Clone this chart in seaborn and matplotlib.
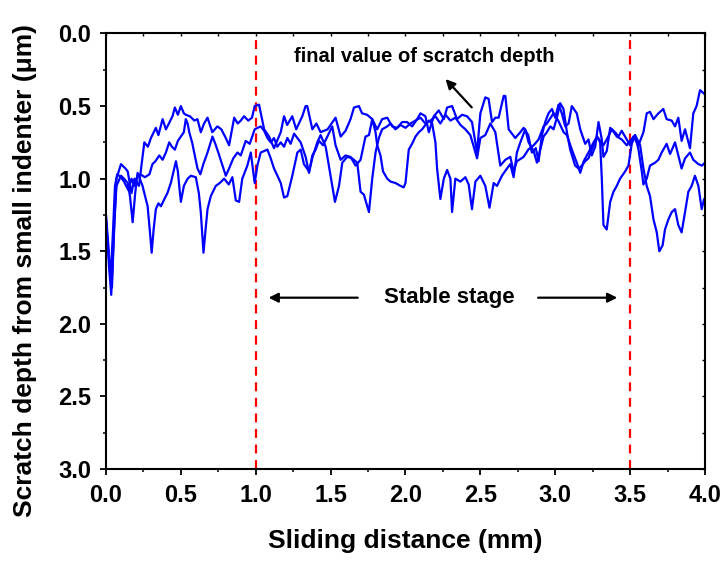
import numpy as np
import pandas as pd
import matplotlib
matplotlib.use("Agg")
import matplotlib.pyplot as plt
from matplotlib.ticker import MultipleLocator
import seaborn as sns

# three scratch-depth traces (x in mm, depth in um)
x_run1 = [0.0, 0.02, 0.035, 0.05, 0.07, 0.1, 0.13, 0.145, 0.17, 0.19, 0.22, 0.256, 0.28, 0.3, 0.333,
          0.35, 0.378, 0.4, 0.42, 0.444, 0.46, 0.48, 0.5, 0.52, 0.533, 0.56, 0.59, 0.611, 0.633, 0.655,
          0.678, 0.71, 0.744, 0.77, 0.8, 0.822, 0.856, 0.88, 0.9, 0.922, 0.95, 0.975, 0.993, 1.022, 1.04,
          1.056, 1.089, 1.122, 1.167, 1.189, 1.21, 1.244, 1.27, 1.311, 1.333, 1.344, 1.378, 1.405, 1.433,
          1.48, 1.533, 1.567, 1.6, 1.633, 1.656, 1.689, 1.71, 1.744, 1.778, 1.811, 1.844, 1.878, 1.911,
          1.944, 1.978, 2.01, 2.044, 2.078, 2.1, 2.133, 2.156, 2.189, 2.222, 2.256, 2.278, 2.311, 2.344,
          2.378, 2.411, 2.444, 2.478, 2.5, 2.533, 2.555, 2.578, 2.6, 2.622, 2.656, 2.667, 2.689, 2.733,
          2.767, 2.789, 2.82, 2.844, 2.87, 2.889, 2.911, 2.933, 2.955, 2.978, 3.0, 3.022, 3.044, 3.067,
          3.089, 3.111, 3.144, 3.167, 3.2, 3.222, 3.244, 3.267, 3.289, 3.311, 3.322, 3.344, 3.367, 3.4,
          3.422, 3.444, 3.478, 3.5, 3.522, 3.556, 3.589, 3.611, 3.633, 3.656, 3.689, 3.722, 3.744, 3.778,
          3.8, 3.822, 3.844, 3.867, 3.9, 3.922, 3.944, 3.967, 3.989, 4.0]
y_run1 = [1.27, 1.6, 1.8, 1.45, 1.0, 0.9, 0.93, 0.95, 1.1, 1.0, 1.05, 0.75, 0.78, 0.72, 0.65,
          0.7, 0.59, 0.66, 0.62, 0.57, 0.51, 0.56, 0.5, 0.55, 0.56, 0.57, 0.6, 0.59, 0.68, 0.62,
          0.58, 0.68, 0.64, 0.66, 0.72, 0.77, 0.58, 0.62, 0.6, 0.57, 0.6, 0.58, 0.5, 0.49, 0.58,
          0.66, 0.71, 0.79, 0.68, 0.57, 0.63, 0.57, 0.66, 0.57, 0.5, 0.5, 0.66, 0.62, 0.68,
          0.66, 0.58, 0.71, 0.67, 0.59, 0.51, 0.5, 0.55, 0.56, 0.59, 0.66, 0.59, 0.58, 0.64,
          0.65, 0.61, 0.61, 0.64, 0.59, 0.55, 0.57, 0.68, 0.57, 0.53, 0.59, 0.51, 0.5, 0.59,
          0.56, 0.57, 0.61, 0.82, 0.55, 0.44, 0.45, 0.61, 0.58, 0.58, 0.43, 0.43, 0.66, 0.72,
          0.68, 0.65, 0.7, 0.82, 0.79, 0.88, 0.7, 0.61, 0.55, 0.52, 0.58, 0.49, 0.55, 0.64,
          0.62, 0.5, 0.55, 0.66, 0.76, 0.73, 0.84, 0.78, 0.61, 0.73, 0.85, 0.81, 0.65, 0.68,
          0.71, 0.67, 0.73, 0.77, 0.71, 0.77, 0.68, 0.55, 0.54, 0.59, 0.55, 0.52, 0.59, 0.6,
          0.64, 0.58, 0.74, 0.66, 0.79, 0.55, 0.5, 0.39, 0.41, 0.42]

x_run2 = [0.0, 0.015, 0.03, 0.045, 0.06, 0.075, 0.1, 0.12, 0.15, 0.17, 0.19, 0.21, 0.23, 0.26, 0.29,
          0.31, 0.33, 0.356, 0.378, 0.4, 0.422, 0.44, 0.46, 0.48, 0.5, 0.52, 0.533, 0.545, 0.556, 0.575,
          0.589, 0.611, 0.63, 0.65, 0.678, 0.711, 0.73, 0.75, 0.778, 0.8, 0.822, 0.85, 0.878, 0.9, 0.933,
          0.96, 0.993, 1.033, 1.056, 1.078, 1.1, 1.122, 1.144, 1.167, 1.189, 1.211, 1.233, 1.256, 1.278,
          1.3, 1.333, 1.356, 1.378, 1.4, 1.422, 1.45, 1.478, 1.511, 1.533, 1.567, 1.6, 1.633, 1.667,
          1.7, 1.733, 1.756, 1.778, 1.8, 1.811, 1.833, 1.85, 1.878, 1.9, 1.933, 1.967, 1.988, 2.0, 2.022,
          2.044, 2.067, 2.089, 2.111, 2.133, 2.156, 2.178, 2.2, 2.211, 2.233, 2.256, 2.278, 2.3, 2.311,
          2.333, 2.367, 2.4, 2.422, 2.444, 2.467, 2.5, 2.533, 2.561, 2.589, 2.611, 2.644, 2.678, 2.7,
          2.722, 2.744, 2.767, 2.8, 2.822, 2.856, 2.878, 2.9, 2.922, 2.944, 2.967, 2.989, 3.011, 3.033,
          3.055, 3.078, 3.1, 3.133, 3.156, 3.178, 3.2, 3.222, 3.244, 3.278, 3.3, 3.311, 3.322, 3.344,
          3.367, 3.389, 3.411, 3.433, 3.467, 3.489, 3.511, 3.533, 3.556, 3.578, 3.589, 3.611, 3.633,
          3.667, 3.689, 3.711, 3.744, 3.767, 3.8, 3.822, 3.844, 3.867, 3.9, 3.922, 3.956, 3.98, 4.0]
y_run2 = [1.25, 1.45, 1.7, 1.4, 1.05, 0.97, 0.99, 1.02, 1.08, 1.0, 1.05, 0.98, 0.97, 0.99, 0.97,
          0.9, 0.88, 0.84, 0.87, 0.82, 0.75, 0.78, 0.8, 0.74, 0.71, 0.68, 0.59, 0.62, 0.68, 0.75,
          0.82, 0.93, 0.97, 0.9, 0.82, 0.71, 0.76, 0.82, 0.91, 0.98, 0.93, 0.86, 0.82, 0.84, 0.74,
          0.76, 0.66, 0.64, 0.67, 0.72, 0.75, 0.72, 0.78, 0.75, 0.78, 0.72, 0.76, 0.69, 0.72,
          0.75, 0.85, 0.96, 0.84, 0.8, 0.74, 0.77, 0.71, 0.64, 0.77, 0.87, 0.84, 0.85, 0.91,
          0.87, 0.71, 0.7, 0.59, 0.68, 0.77, 0.84, 0.95, 1.0, 1.02, 1.03, 1.05, 1.06, 1.03, 0.8,
          0.76, 0.71, 0.68, 0.66, 0.63, 0.6, 0.62, 0.75, 0.93, 1.14, 1.0, 0.94, 1.0, 1.23,
          1.0, 1.02, 0.99, 1.04, 1.21, 1.02, 0.98, 1.05, 1.2, 1.03, 1.05, 0.98, 0.93, 0.9,
          0.99, 0.82, 0.75, 0.66, 0.75, 0.81, 0.89, 0.8, 0.71, 0.68, 0.64, 0.66, 0.58, 0.48,
          0.52, 0.68, 0.8, 0.91, 0.93, 0.91, 0.88, 0.86, 0.8, 0.71, 0.75, 1.0, 1.32, 1.35,
          1.16, 1.09, 1.05, 1.0, 0.95, 0.91, 0.76, 0.7, 0.8, 0.95, 1.04, 1.0, 0.91,
          0.89, 0.87, 0.82, 0.76, 0.83, 0.75, 0.84, 0.93, 0.86, 0.82, 0.87, 0.9, 0.91, 0.89]

x_run3 = [0.0, 0.02, 0.04, 0.055, 0.07, 0.1, 0.12, 0.145, 0.16, 0.178, 0.195, 0.211, 0.244, 0.278,
          0.292, 0.305, 0.318, 0.333, 0.35, 0.367, 0.39, 0.41, 0.433, 0.467, 0.48, 0.489, 0.5, 0.52,
          0.545, 0.567, 0.6, 0.62, 0.633, 0.651, 0.665, 0.678, 0.7, 0.733, 0.76, 0.789, 0.82, 0.844,
          0.867, 0.889, 0.91, 0.944, 0.967, 0.993, 1.011, 1.033, 1.078, 1.1, 1.122, 1.145, 1.167, 1.189,
          1.211, 1.244, 1.278, 1.3, 1.322, 1.356, 1.38, 1.411, 1.433, 1.467, 1.5, 1.529, 1.556, 1.578,
          1.611, 1.644, 1.678, 1.7, 1.722, 1.756, 1.778, 1.8, 1.822, 1.844, 1.878, 1.9, 1.933, 1.967,
          2.0, 2.033, 2.067, 2.1, 2.133, 2.167, 2.2, 2.233, 2.267, 2.3, 2.333, 2.367, 2.4, 2.433,
          2.456, 2.478, 2.5, 2.533, 2.567, 2.6, 2.633, 2.667, 2.7, 2.722, 2.744, 2.789, 2.82, 2.856,
          2.889, 2.922, 2.944, 2.989, 3.02, 3.056, 3.078, 3.111, 3.144, 3.167, 3.19, 3.222, 3.256,
          3.28, 3.322, 3.344, 3.378, 3.411, 3.444, 3.478, 3.5, 3.533, 3.567, 3.589, 3.611, 3.633,
          3.656, 3.678, 3.695, 3.717, 3.733, 3.756, 3.778, 3.8, 3.822, 3.844, 3.867, 3.889, 3.911,
          3.933, 3.956, 3.978, 3.994, 4.0]
y_run3 = [1.3, 1.55, 1.75, 1.3, 1.05, 0.98, 1.0, 1.03, 1.12, 1.3, 1.1, 0.96, 1.05, 1.19,
          1.35, 1.51, 1.35, 1.21, 1.17, 1.19, 1.14, 1.1, 1.03, 0.88, 0.95, 1.05, 1.16, 1.05,
          1.0, 0.98, 0.99, 1.1, 1.23, 1.51, 1.35, 1.21, 1.12, 1.05, 1.03, 1.0, 1.04, 0.99,
          1.15, 1.16, 1.0, 0.91, 0.82, 1.03, 0.91, 0.82, 0.8, 0.86, 0.93, 0.98, 1.03, 1.13,
          1.12, 0.98, 0.82, 0.8, 0.9, 0.95, 0.85, 0.75, 0.7, 0.78, 0.98, 1.16, 1.05, 0.89,
          0.85, 0.86, 0.89, 1.09, 1.11, 1.23, 1.0, 0.82, 0.72, 0.66, 0.64, 0.62, 0.66, 0.63,
          0.65, 0.62, 0.6, 0.58, 0.62, 0.6, 0.57, 0.62, 0.56, 0.6, 0.58, 0.63, 0.66, 0.7,
          0.78, 0.86, 0.72, 0.7, 0.62, 0.68, 0.91, 0.87, 0.85, 0.95, 0.88, 0.85, 0.8, 0.77,
          0.73, 0.64, 0.62, 0.55, 0.6, 0.68, 0.7, 0.8, 0.89, 0.96, 0.88, 0.82, 0.75,
          0.71, 0.77, 0.73, 0.66, 0.71, 0.73, 0.77, 0.74, 0.7, 0.77, 0.93, 1.05, 1.12,
          1.28, 1.37, 1.5, 1.46, 1.35, 1.28, 1.23, 1.21, 1.32, 1.37, 1.23, 1.09, 1.05,
          0.98, 1.05, 1.21, 1.14, 1.15]

stage_bounds = [1.0, 3.5]
x_ticks = [0.0, 0.5, 1.0, 1.5, 2.0, 2.5, 3.0, 3.5, 4.0]
y_ticks = [0.0, 0.5, 1.0, 1.5, 2.0, 2.5, 3.0]

df = pd.concat([
    pd.DataFrame({"x": x_run1, "depth": y_run1, "run": "1"}),
    pd.DataFrame({"x": x_run2, "depth": y_run2, "run": "2"}),
    pd.DataFrame({"x": x_run3, "depth": y_run3, "run": "3"}),
], ignore_index=True)

sns.set_style("ticks")
plt.rcParams["font.family"] = ["Liberation Sans", "DejaVu Sans"]
plt.rcParams["font.weight"] = "bold"
plt.rcParams["text.color"] = "black"
plt.rcParams["axes.labelcolor"] = "black"
plt.rcParams["xtick.color"] = "black"
plt.rcParams["ytick.color"] = "black"

fig = plt.figure(figsize=(7.27, 5.62), dpi=100)
ax = fig.add_axes([0.1458, 0.1655, 0.8239, 0.7749])

sns.lineplot(data=df, x="x", y="depth", hue="run", units="run", estimator=None, sort=False,
             palette=["#0000FF"] * 3, linewidth=1.6, legend=False, ax=ax)

for xb in stage_bounds:
    ax.axvline(xb, color="#FF0000", linestyle=(0, (4, 3)), linewidth=1.6, zorder=1)

ax.set_xlim(0, 4)
ax.set_ylim(3, 0)
ax.set_xticks(x_ticks)
ax.set_yticks(y_ticks)
ax.set_xticklabels([f"{v:.1f}" for v in x_ticks])
ax.set_yticklabels([f"{v:.1f}" for v in y_ticks])
ax.xaxis.set_minor_locator(MultipleLocator(0.25))
ax.yaxis.set_minor_locator(MultipleLocator(0.25))
ax.tick_params(which="major", direction="out", length=4.5, width=1.3, labelsize=17, pad=6,
               colors="black")
ax.tick_params(which="minor", direction="out", length=2.5, width=1.1, colors="black")
for lab in ax.get_xticklabels() + ax.get_yticklabels():
    lab.set_fontweight("bold")

for side in ["top", "right"]:
    sec = ax.secondary_xaxis("top") if side == "top" else ax.secondary_yaxis("right")
    sec.tick_params(which="both", direction="in", length=2, width=1, labeltop=False, labelright=False,
                    colors="black")
    if side == "top":
        sec.set_xticks(x_ticks)
        sec.xaxis.set_minor_locator(MultipleLocator(0.25))
    else:
        sec.set_yticks(y_ticks)
        sec.yaxis.set_minor_locator(MultipleLocator(0.25))
    sec.spines[side].set_visible(False)

for s in ax.spines.values():
    s.set_linewidth(1.5)
    s.set_color("black")

ax.set_xlabel("Sliding distance (mm)", fontsize=19, fontweight="bold", labelpad=16, color="black")
ax.set_ylabel("Scratch depth from small indenter (\u03bcm)", fontsize=19, fontweight="bold",
              color="black")
ax.yaxis.set_label_coords(-0.115, 0.455)

ax.text(2.127, 0.16, "final value of scratch depth", fontsize=14.5, fontweight="bold",
        ha="center", va="center", color="black")
ax.annotate("", xy=(2.255, 0.30), xytext=(2.455, 0.523),
            arrowprops=dict(arrowstyle="-|>", color="black", lw=1.6, mutation_scale=14))

ax.text(2.29, 1.82, "Stable stage", fontsize=16, fontweight="bold", ha="center", va="center",
        color="black")
ax.annotate("", xy=(1.067, 1.82), xytext=(1.70, 1.82),
            arrowprops=dict(arrowstyle="-|>", color="black", lw=1.6, mutation_scale=14))
ax.annotate("", xy=(3.433, 1.82), xytext=(2.867, 1.82),
            arrowprops=dict(arrowstyle="-|>", color="black", lw=1.6, mutation_scale=14))

fig.savefig("out.png", dpi=100)
